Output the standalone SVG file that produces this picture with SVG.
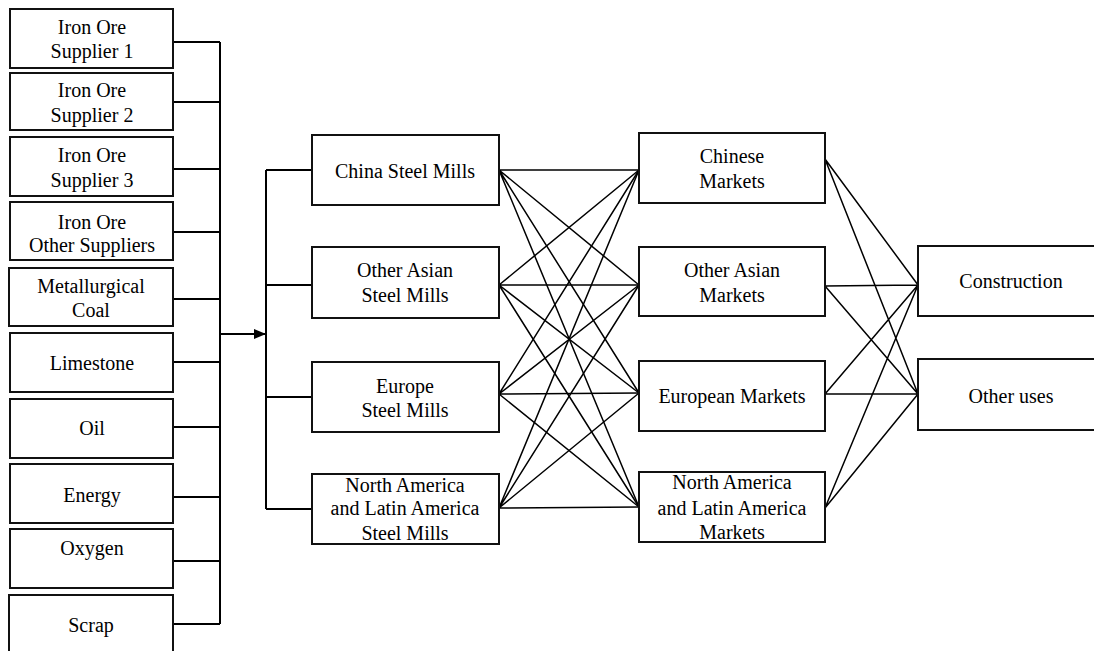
<svg xmlns="http://www.w3.org/2000/svg" width="1094" height="651" viewBox="0 0 1094 651">
<style>
.box{fill:#fff;stroke:#111;stroke-width:2}
.t{font-family:'Liberation Serif','Tinos','Times New Roman','DejaVu Serif',serif;font-size:20px;fill:#000;text-anchor:middle}
.ln{fill:none;stroke:#000;stroke-width:2}
.dg{fill:none;stroke:#000;stroke-width:1.5}
</style>
<defs>
<marker id="ah" markerWidth="12" markerHeight="10" refX="12" refY="5" orient="auto" markerUnits="userSpaceOnUse">
<path d="M0,0 L12,5 L0,10 Z" fill="#000"/>
</marker>
</defs>
<rect width="1094" height="651" fill="#fff"/>
<g id="connectors">
<path class="ln" d="M173,42H220M173,102H220M173,169H220M173,232H220M173,299H220M173,362H220M173,427H220M173,497H220M173,561H220M173,624H220M220,42V624"/>
<line class="ln" x1="220" y1="334" x2="266" y2="334" marker-end="url(#ah)"/>
<path class="ln" d="M266,170V509M266,170H312M266,285H312M266,397H312M266,509H312"/>
<g class="dg">
<path d="M499,170L639,170M499,170L639,285M499,170L639,393M499,170L639,507"/>
<path d="M499,285L639,170M499,285L639,285M499,285L639,393M499,285L639,507"/>
<path d="M499,394L639,170M499,394L639,285M499,394L639,393M499,394L639,507"/>
<path d="M499,508L639,170M499,508L639,285M499,508L639,393M499,508L639,507"/>
<path d="M825,159L918,285M825,159L918,394M825,286L918,285M825,286L918,394M825,394L918,285M825,394L918,394M825,508L918,285M825,508L918,394"/>
</g>
</g>
<g font-family="'Liberation Serif', 'Times New Roman', serif">
<g id="iron1"><rect class="box" x="10" y="9" width="163" height="59"/><text class="t" x="92" y="34">Iron Ore</text><text class="t" x="92" y="58">Supplier 1</text></g>
<g id="iron2"><rect class="box" x="10" y="73" width="163" height="57"/><text class="t" x="92" y="97">Iron Ore</text><text class="t" x="92" y="122">Supplier 2</text></g>
<g id="iron3"><rect class="box" x="10" y="137" width="163" height="59"/><text class="t" x="92" y="162">Iron Ore</text><text class="t" x="92" y="187">Supplier 3</text></g>
<g id="iron4"><rect class="box" x="10" y="202" width="163" height="58"/><text class="t" x="92" y="229">Iron Ore</text><text class="t" x="92" y="252">Other Suppliers</text></g>
<g id="coal"><rect class="box" x="9" y="268" width="164" height="58"/><text class="t" x="91" y="293">Metallurgical</text><text class="t" x="91" y="317">Coal</text></g>
<g id="limestone"><rect class="box" x="10" y="333" width="163" height="59"/><text class="t" x="92" y="370">Limestone</text></g>
<g id="oil"><rect class="box" x="10" y="399" width="163" height="59"/><text class="t" x="92" y="435">Oil</text></g>
<g id="energy"><rect class="box" x="10" y="464" width="163" height="59"/><text class="t" x="92" y="502">Energy</text></g>
<g id="oxygen"><rect class="box" x="10" y="529" width="163" height="59"/><text class="t" x="92" y="555">Oxygen</text></g>
<g id="scrap"><rect class="box" x="9" y="595" width="164" height="70"/><text class="t" x="91" y="632">Scrap</text></g>
<g id="mill-china"><rect class="box" x="312" y="135" width="187" height="70"/><text class="t" x="405" y="178">China Steel Mills</text></g>
<g id="mill-asia"><rect class="box" x="312" y="247" width="187" height="71"/><text class="t" x="405" y="277">Other Asian</text><text class="t" x="405" y="302">Steel Mills</text></g>
<g id="mill-europe"><rect class="box" x="312" y="362" width="187" height="70"/><text class="t" x="405" y="393">Europe</text><text class="t" x="405" y="417">Steel Mills</text></g>
<g id="mill-america"><rect class="box" x="312" y="474" width="187" height="70"/><text class="t" x="405" y="492">North America</text><text class="t" x="405" y="515">and Latin America</text><text class="t" x="405" y="540">Steel Mills</text></g>
<g id="mkt-china"><rect class="box" x="639" y="133" width="186" height="70"/><text class="t" x="732" y="163">Chinese</text><text class="t" x="732" y="188">Markets</text></g>
<g id="mkt-asia"><rect class="box" x="639" y="247" width="186" height="69"/><text class="t" x="732" y="277">Other Asian</text><text class="t" x="732" y="302">Markets</text></g>
<g id="mkt-europe"><rect class="box" x="639" y="361" width="186" height="70"/><text class="t" x="732" y="403">European Markets</text></g>
<g id="mkt-america"><rect class="box" x="639" y="472" width="186" height="70"/><text class="t" x="732" y="489">North America</text><text class="t" x="732" y="515">and Latin America</text><text class="t" x="732" y="539">Markets</text></g>
<g id="construction"><rect class="box" x="918" y="246" width="190" height="70"/><text class="t" x="1011" y="288">Construction</text></g>
<g id="other-uses"><rect class="box" x="918" y="359" width="190" height="71"/><text class="t" x="1011" y="403">Other uses</text></g>
</g>
</svg>
